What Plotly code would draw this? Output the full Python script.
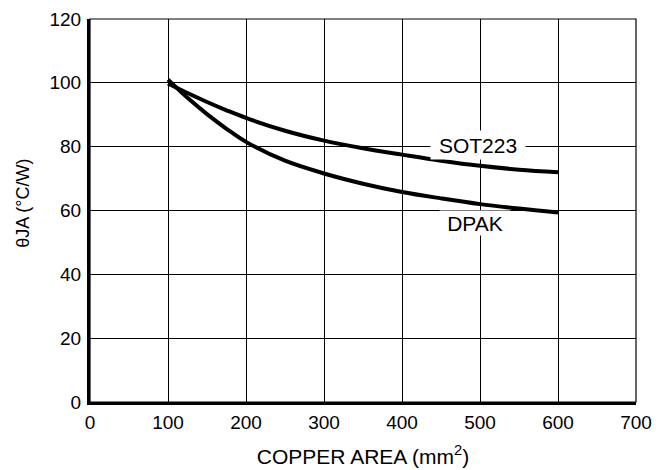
import plotly.graph_objects as go

# Data
sot223_x = [100, 125, 150, 175, 200, 250, 300, 350, 400, 450, 500, 550, 600]
sot223_y = [99.8, 96.8, 94.0, 91.4, 89.0, 85.0, 81.9, 79.5, 77.5, 75.6, 74.0, 72.8, 72.0]

dpak_x = [100, 125, 150, 175, 200, 250, 300, 350, 400, 450, 500, 550, 600]
dpak_y = [101.0, 95.3, 90.2, 85.6, 81.5, 75.6, 71.6, 68.4, 65.8, 63.8, 62.0, 60.6, 59.4]

x_ticks = [0, 100, 200, 300, 400, 500, 600, 700]
y_ticks = [0, 20, 40, 60, 80, 100, 120]

series_labels = ["SOT223", "DPAK"]
label_pos = [(497, 80.6), (494, 56.0)]
label_box = [(94, 28), (70, 24)]

FONT = "Liberation Sans, Arial, Helvetica, sans-serif"

fig = go.Figure()
fig.add_trace(go.Scatter(x=sot223_x, y=sot223_y, mode="lines",
                         line=dict(color="black", width=4, shape="spline", smoothing=1),
                         name="SOT223", showlegend=False))
fig.add_trace(go.Scatter(x=dpak_x, y=dpak_y, mode="lines",
                         line=dict(color="black", width=4, shape="spline", smoothing=1),
                         name="DPAK", showlegend=False))

for txt, (lx, ly), (bw, bh) in zip(series_labels, label_pos, label_box):
    fig.add_annotation(x=lx, y=ly, text=txt, showarrow=False,
                       font=dict(family=FONT, size=21, color="black"),
                       bgcolor="white", borderpad=0, width=bw, height=bh)

# y-axis title (placed slightly above the axis centre, as in the reference)
fig.add_annotation(xref="paper", yref="paper", x=-0.123, y=0.52,
                   text="θJA (°C/W)", textangle=-90, showarrow=False,
                   xanchor="center", yanchor="middle",
                   font=dict(family=FONT, size=18, color="black"))

# thin frame on top/right
fig.add_shape(type="rect", xref="paper", yref="paper", x0=0, y0=0, x1=1, y1=1,
              line=dict(color="black", width=1.2), layer="below")

fig.update_layout(
    width=658, height=470,
    margin=dict(l=90, r=22, t=19, b=68),
    paper_bgcolor="white", plot_bgcolor="white",
    font=dict(family=FONT, color="black", size=19),
    xaxis=dict(range=[0, 700], tickvals=x_ticks, ticktext=[str(v) for v in x_ticks],
               showgrid=True, gridcolor="black", gridwidth=1.2,
               showline=True, linecolor="black", linewidth=3,
               ticks="outside", ticklen=1, tickcolor="rgba(0,0,0,0)",
               tickfont=dict(size=19), zeroline=False, automargin=False,
               title=dict(text="COPPER AREA (mm<sup>2</sup>)", font=dict(size=21), standoff=18)),
    yaxis=dict(range=[0, 120], tickvals=y_ticks, ticktext=[str(v) for v in y_ticks],
               showgrid=True, gridcolor="black", gridwidth=1.2,
               showline=True, linecolor="black", linewidth=3,
               ticks="outside", ticklen=2, tickcolor="rgba(0,0,0,0)",
               tickfont=dict(size=19), zeroline=False, automargin=False),
)

fig.write_html("out.html", config={"displayModeBar": False},
               post_script="document.body.style.margin='0';document.body.style.overflow='hidden';")
